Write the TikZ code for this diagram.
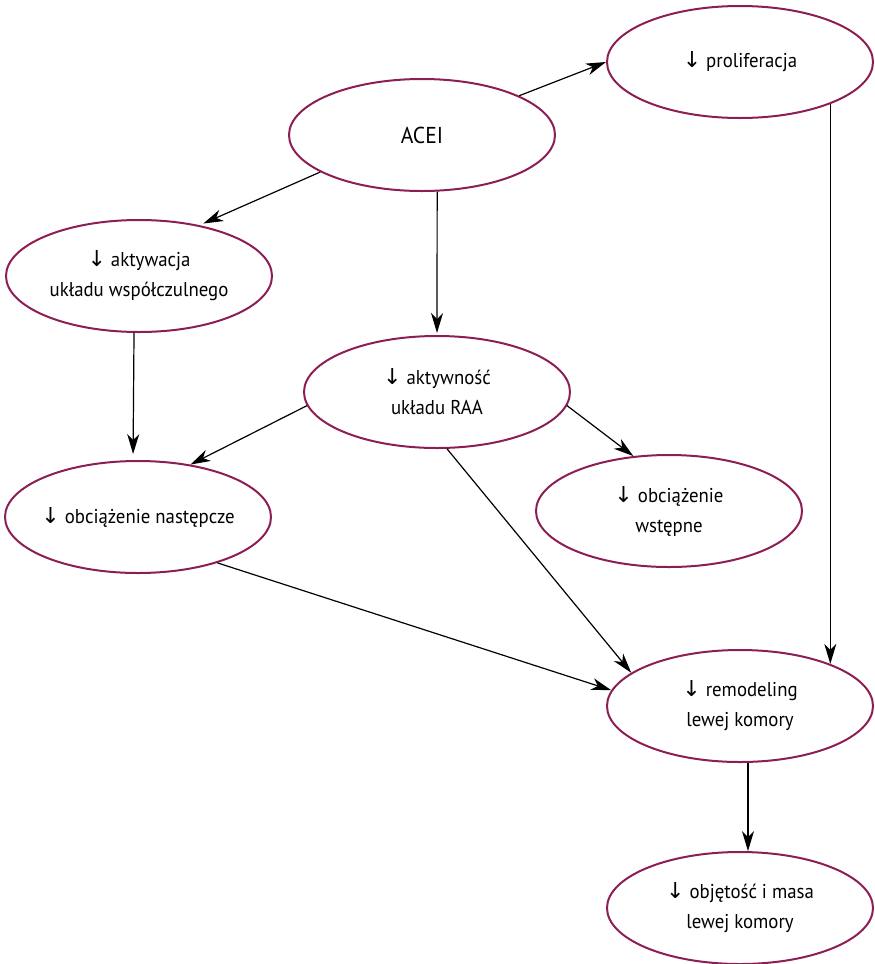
\documentclass[tikz,border=0pt]{standalone}
\usepackage{fontspec}
\setmainfont{PT Sans}[FakeStretch=0.94]
\newfontfamily\arrowfont{DejaVu Sans}
\usetikzlibrary{arrows.meta}
\usetikzlibrary{shapes.geometric}

\definecolor{ringcol}{RGB}{140,30,85}
\newcommand{\dn}{{\arrowfont\fontsize{11}{15}\selectfont ↓}}

\begin{document}
\begin{tikzpicture}[x=0.5pt,y=-0.5pt,>/.tip={Stealth[length=10pt,width=6pt,inset=3pt]},
	bubble/.style={draw=ringcol,line width=1pt,shape=ellipse,minimum width=133pt,minimum height=56pt,inner xsep=-8pt,inner ysep=0pt,align=center,font=\fontsize{10}{15}\selectfont},
	link/.style={->,line width=0.6pt}]
	\useasboundingbox (0,0) rectangle (874,964);
	\draw (422,135) node (acei) [bubble,font=\fontsize{11.5}{15}\selectfont] {ACEI};
	\draw (740,62) node (prolif) [bubble] {\dn{} proliferacja};
	\draw (139,276) node (aktyw) [bubble] {\dn{} aktywacja\\układu współczulnego};
	\draw (437,392) node (raa) [bubble] {\dn{} aktywność\\układu RAA};
	\draw (138,517) node (nast) [bubble] {\dn{} obciążenie następcze};
	\draw (669,511) node (wstep) [bubble] {\dn{} obciążenie\\wstępne};
	\draw (740,706) node (remod) [bubble] {\dn{} remodeling\\lewej komory};
	\draw (740,908) node (objet) [bubble] {\dn{} objętość i masa\\lewej komory};
	\draw[link] (acei.22) -- (prolif.west);
	\draw[link,shorten >=2pt] (acei.200) -- (aktyw.40);
	\draw[link,shorten >=1pt] (acei.285) -- (raa.north);
	\draw[link,shorten >=3pt] (aktyw.265) -- (nast.95);
	\draw[link] (raa.186) -- (nast.45);
	\draw[link] (raa.354) -- (wstep.123);
	\draw[link] (raa.280) -- (remod.163);
	\draw[link] (nast.330) -- (remod.173);
	\draw[link] (prolif.335) -- (remod.25);
	\draw[link] (remod.278) -- (objet.82);
\end{tikzpicture}
\end{document}
